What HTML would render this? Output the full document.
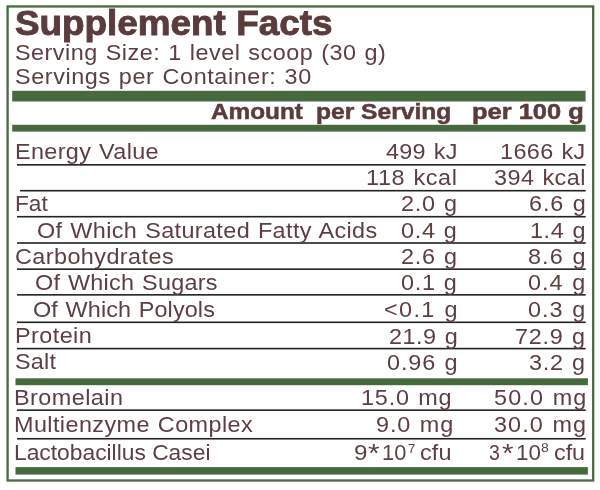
<!DOCTYPE html>
<html><head><meta charset="utf-8"><style>
html,body{margin:0;padding:0;background:#fff;width:600px;height:490px;overflow:hidden}
body{position:relative;font-family:"Liberation Sans", sans-serif}
svg{position:absolute;left:0;top:0}
.t{position:absolute;white-space:pre;color:#5e3e40;transform-origin:0 0;font-weight:normal;filter:blur(0.3px)}
.b{font-weight:bold;color:#5b3b3c;-webkit-text-stroke:0.5px #5b3b3c}
</style></head><body>
<svg width="600" height="490" viewBox="0 0 600 490"><rect x="7.6" y="6.45" width="585.60" height="474.05" fill="none" stroke="#466a3e" stroke-width="2.3"/><rect x="12.2" y="90.8" width="573.40" height="10.70" fill="#466a3e"/><rect x="12.2" y="124.8" width="573.40" height="6.80" fill="#466a3e"/><rect x="15.5" y="378.3" width="572.40" height="6.90" fill="#466a3e"/><rect x="15.5" y="467.1" width="572.40" height="7.50" fill="#466a3e"/><rect x="17" y="164.05" width="568.70" height="1.60" fill="#222"/><rect x="20.1" y="189.9" width="565.60" height="1.60" fill="#222"/><rect x="17" y="215.9" width="568.70" height="1.60" fill="#222"/><rect x="17" y="242.2" width="568.70" height="1.60" fill="#222"/><rect x="17" y="268.35" width="568.70" height="1.60" fill="#222"/><rect x="17" y="294.05" width="568.70" height="1.60" fill="#222"/><rect x="17" y="321.5" width="568.70" height="1.60" fill="#222"/><rect x="17" y="347.8" width="568.70" height="1.60" fill="#222"/><rect x="17" y="409.35" width="568.70" height="1.60" fill="#222"/><rect x="17" y="437.95" width="568.70" height="1.60" fill="#222"/></svg>
<div class="t b" style="left:15.24px;top:3px;font-size:34.7px;line-height:41.64px;transform:scaleX(1.0624);-webkit-text-stroke:0.9px #5b3b3c">Supplement Facts</div><div class="t" style="left:14.76px;top:39px;font-size:22.5px;line-height:27.00px;word-spacing:1.0px;letter-spacing:0.467px;transform:scaleX(1.0400)">Serving Size: 1 level scoop (30 g)</div><div class="t" style="left:14.76px;top:63px;font-size:22.5px;line-height:27.00px;word-spacing:1.0px;letter-spacing:0.565px;transform:scaleX(1.0400)">Servings per Container: 30</div><div class="t b" style="left:210.70px;top:99px;font-size:22px;line-height:26.40px;transform:scaleX(1.1061)">Amount</div><div class="t b" style="left:316.10px;top:99px;font-size:22px;line-height:26.40px;transform:scaleX(1.1181)">per Serving</div><div class="t b" style="left:472.30px;top:99px;font-size:22px;line-height:26.40px;transform:scaleX(1.1569)">per 100 g</div><div class="t" style="left:14.68px;top:138px;font-size:22.5px;line-height:27.00px;word-spacing:1.0px;letter-spacing:0.330px;transform:scaleX(1.0400)">Energy Value</div><div class="t" style="left:385.88px;top:138px;font-size:22.5px;line-height:27.00px;word-spacing:1.0px;letter-spacing:0.277px;transform:scaleX(1.0400)">499 kJ</div><div class="t" style="left:499.94px;top:138px;font-size:22.5px;line-height:27.00px;word-spacing:1.0px;letter-spacing:0.349px;transform:scaleX(1.0400)">1666 kJ</div><div class="t" style="left:366.24px;top:164px;font-size:22.5px;line-height:27.00px;word-spacing:1.0px;letter-spacing:0.610px;transform:scaleX(1.0400)">118 kcal</div><div class="t" style="left:494.02px;top:164px;font-size:22.5px;line-height:27.00px;word-spacing:1.0px;letter-spacing:0.431px;transform:scaleX(1.0400)">394 kcal</div><div class="t" style="left:14.54px;top:190px;font-size:22.5px;line-height:27.00px;transform:scaleX(1.0081)">Fat</div><div class="t" style="left:400.96px;top:190px;font-size:22.5px;line-height:27.00px;word-spacing:1.0px;letter-spacing:0.721px;transform:scaleX(1.0400)">2.0 g</div><div class="t" style="left:528.56px;top:190px;font-size:22.5px;line-height:27.00px;word-spacing:1.0px;letter-spacing:0.889px;transform:scaleX(1.0400)">6.6 g</div><div class="t" style="left:37.46px;top:217px;font-size:22.5px;line-height:27.00px;word-spacing:1.0px;letter-spacing:0.361px;transform:scaleX(1.0400)">Of Which Saturated Fatty Acids</div><div class="t" style="left:401.22px;top:217px;font-size:22.5px;line-height:27.00px;word-spacing:1.0px;letter-spacing:0.659px;transform:scaleX(1.0400)">0.4 g</div><div class="t" style="left:529.84px;top:217px;font-size:22.5px;line-height:27.00px;word-spacing:1.0px;letter-spacing:0.582px;transform:scaleX(1.0400)">1.4 g</div><div class="t" style="left:15.36px;top:243px;font-size:22.5px;line-height:27.00px;letter-spacing:0.410px;transform:scaleX(1.0400)">Carbohydrates</div><div class="t" style="left:400.96px;top:243px;font-size:22.5px;line-height:27.00px;word-spacing:1.0px;letter-spacing:0.721px;transform:scaleX(1.0400)">2.6 g</div><div class="t" style="left:527.86px;top:243px;font-size:22.5px;line-height:27.00px;word-spacing:1.0px;letter-spacing:1.058px;transform:scaleX(1.0400)">8.6 g</div><div class="t" style="left:34.66px;top:269px;font-size:22.5px;line-height:27.00px;word-spacing:1.0px;letter-spacing:0.243px;transform:scaleX(1.0400)">Of Which Sugars</div><div class="t" style="left:401.22px;top:269px;font-size:22.5px;line-height:27.00px;word-spacing:1.0px;letter-spacing:0.659px;transform:scaleX(1.0400)">0.1 g</div><div class="t" style="left:528.12px;top:269px;font-size:22.5px;line-height:27.00px;word-spacing:1.0px;letter-spacing:0.995px;transform:scaleX(1.0400)">0.4 g</div><div class="t" style="left:33.36px;top:296px;font-size:22.5px;line-height:27.00px;word-spacing:1.0px;letter-spacing:0.105px;transform:scaleX(1.0400)">Of Which Polyols</div><div class="t" style="left:384.46px;top:296px;font-size:22.5px;line-height:27.00px;word-spacing:1.0px;letter-spacing:1.323px;transform:scaleX(1.0400)">&lt;0.1 g</div><div class="t" style="left:528.12px;top:296px;font-size:22.5px;line-height:27.00px;word-spacing:1.0px;letter-spacing:0.995px;transform:scaleX(1.0400)">0.3 g</div><div class="t" style="left:14.58px;top:322px;font-size:22.5px;line-height:27.00px;letter-spacing:0.420px;transform:scaleX(1.0400)">Protein</div><div class="t" style="left:389.26px;top:323px;font-size:22.5px;line-height:27.00px;word-spacing:1.0px;letter-spacing:0.500px;transform:scaleX(1.0400)">21.9 g</div><div class="t" style="left:515.46px;top:323px;font-size:22.5px;line-height:27.00px;word-spacing:1.0px;letter-spacing:0.731px;transform:scaleX(1.0400)">72.9 g</div><div class="t" style="left:15.36px;top:348px;font-size:22.5px;line-height:27.00px;letter-spacing:0.237px;transform:scaleX(1.0400)">Salt</div><div class="t" style="left:387.32px;top:349px;font-size:22.5px;line-height:27.00px;word-spacing:1.0px;letter-spacing:0.873px;transform:scaleX(1.0400)">0.96 g</div><div class="t" style="left:529.42px;top:349px;font-size:22.5px;line-height:27.00px;word-spacing:1.0px;letter-spacing:0.683px;transform:scaleX(1.0400)">3.2 g</div><div class="t" style="left:13.68px;top:384px;font-size:22.5px;line-height:27.00px;letter-spacing:0.435px;transform:scaleX(1.0400)">Bromelain</div><div class="t" style="left:361.24px;top:384px;font-size:22.5px;line-height:27.00px;word-spacing:1.0px;letter-spacing:0.804px;transform:scaleX(1.0400)">15.0 mg</div><div class="t" style="left:493.66px;top:384px;font-size:22.5px;line-height:27.00px;word-spacing:1.0px;letter-spacing:1.074px;transform:scaleX(1.0400)">50.0 mg</div><div class="t" style="left:13.68px;top:411px;font-size:22.5px;line-height:27.00px;word-spacing:1.0px;letter-spacing:0.397px;transform:scaleX(1.0400)">Multienzyme Complex</div><div class="t" style="left:375.76px;top:411px;font-size:22.5px;line-height:27.00px;word-spacing:1.0px;letter-spacing:0.885px;transform:scaleX(1.0400)">9.0 mg</div><div class="t" style="left:493.92px;top:411px;font-size:22.5px;line-height:27.00px;word-spacing:1.0px;letter-spacing:1.032px;transform:scaleX(1.0400)">30.0 mg</div><div class="t" style="left:13.73px;top:439px;font-size:22.5px;line-height:27.00px;transform:scaleX(1.0134)">Lactobacillus Casei</div><div class="t" style="left:353.92px;top:439px;font-size:22.5px;line-height:27.00px;transform:scaleX(1.0762)">9</div><div class="t" style="left:368.13px;top:438px;font-size:26px;line-height:31.20px;transform:scaleX(1.1459)">*</div><div class="t" style="left:382.30px;top:439px;font-size:22.5px;line-height:27.00px;transform:scaleX(0.9692)">10</div><div class="t" style="left:407.80px;top:441px;font-size:13px;line-height:15.60px;transform:scaleX(1.0080)">7</div><div class="t" style="left:420.02px;top:439px;font-size:22.5px;line-height:27.00px;letter-spacing:0.163px;transform:scaleX(1.0400)">cfu</div><div class="t" style="left:488.85px;top:439px;font-size:22.5px;line-height:27.00px;transform:scaleX(0.8651)">3</div><div class="t" style="left:501.73px;top:438px;font-size:26px;line-height:31.20px;transform:scaleX(1.1351)">*</div><div class="t" style="left:515.51px;top:439px;font-size:22.5px;line-height:27.00px;transform:scaleX(0.9934)">10</div><div class="t" style="left:541.46px;top:440px;font-size:13px;line-height:15.60px;transform:scaleX(1.0800)">8</div><div class="t" style="left:554.22px;top:439px;font-size:22.5px;line-height:27.00px;transform:scaleX(1.0342)">cfu</div>
</body></html>
